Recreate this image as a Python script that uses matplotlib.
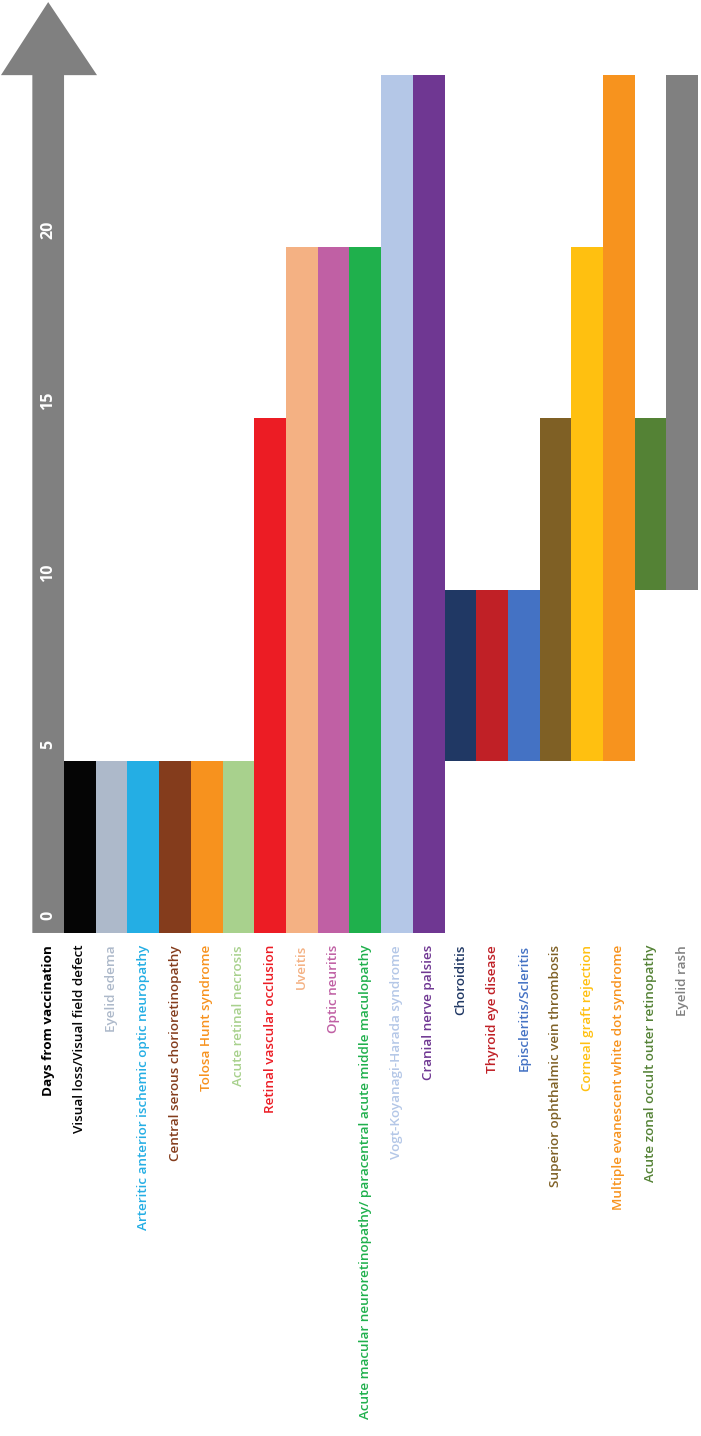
import numpy as np
import matplotlib.pyplot as plt

# =========================
# Datos
# =========================

conditions = [
    "Visual loss/Visual field defect",
    "Eyelid edema",
    "Arteritic anterior ischemic optic neuropathy",
    "Central serous chorioretinopathy",
    "Tolosa Hunt syndrome",
    "Acute retinal necrosis",
    "Retinal vascular occlusion",
    "Uveitis",
    "Optic neuritis",
    "Acute macular neuroretinopathy/ paracentral acute middle maculopathy",
    "Vogt-Koyanagi-Harada syndrome",
    "Cranial nerve palsies",
    "Choroiditis",
    "Thyroid eye disease",
    "Episcleritis/Scleritis",
    "Superior ophthalmic vein thrombosis",
    "Corneal graft rejection",
    "Multiple evanescent white dot syndrome",
    "Acute zonal occult outer retinopathy",
    "Eyelid rash",
]

start_day = [0, 0, 0, 0, 0, 0, 0, 0, 0, 0, 0, 0,
             5, 5, 5, 5, 5, 5, 10, 10]
end_day = [5, 5, 5, 5, 5, 5, 15, 20, 20, 20, 25, 25,
           10, 10, 10, 15, 20, 25, 15, 25]

colors = [
    "#050505", "#adb9ca", "#24aee4", "#843c1c", "#f7921e", "#a8d18d",
    "#ec1c24", "#f4b183", "#c060a4", "#1fb04c", "#b4c7e7", "#6f3792",
    "#203864", "#c02026", "#4472c4", "#7f6025", "#ffc010", "#f7931e",
    "#548235", "#808080",
]

day_ticks = [0, 5, 10, 15, 20]
axis_title = "Days from vaccination"

# =========================
# Figura
# =========================

fig = plt.figure(figsize=(7.01, 14.36), dpi=100)
ax = fig.add_axes([0, 0, 1, 1])
ax.set_xlim(-2.02, 20.09)
ax.set_ylim(-14.66, 27.19)
ax.axis("off")

# flecha del eje de tiempo
ax.fill([-1, 0, 0, 1.04, -0.5, -1.99, -1, -1],
        [0, 0, 25, 25, 27.13, 25, 25, 0],
        color="#808080", lw=0)

for d in day_ticks:
    ax.text(-0.5, d + 0.5, str(d), rotation=90, ha="center", va="center",
            color="white", fontsize=11.5, fontweight="bold", family="Open Sans")

# barras
x = np.arange(len(conditions))
heights = np.array(end_day) - np.array(start_day)
ax.bar(x + 0.5, heights, bottom=start_day, width=1.0, color=colors, lw=0)

# etiquetas
ax.text(-0.5, -0.35, axis_title, rotation=90, ha="center", va="top",
        fontsize=9.7, fontweight="bold", color="black", family="Open Sans")
for i, name in enumerate(conditions):
    ax.text(i + 0.5, -0.35, name, rotation=90, ha="center", va="top",
            fontsize=9.7, fontweight="semibold", color=colors[i],
            family="Open Sans")

fig.savefig("out.png", dpi=100)
